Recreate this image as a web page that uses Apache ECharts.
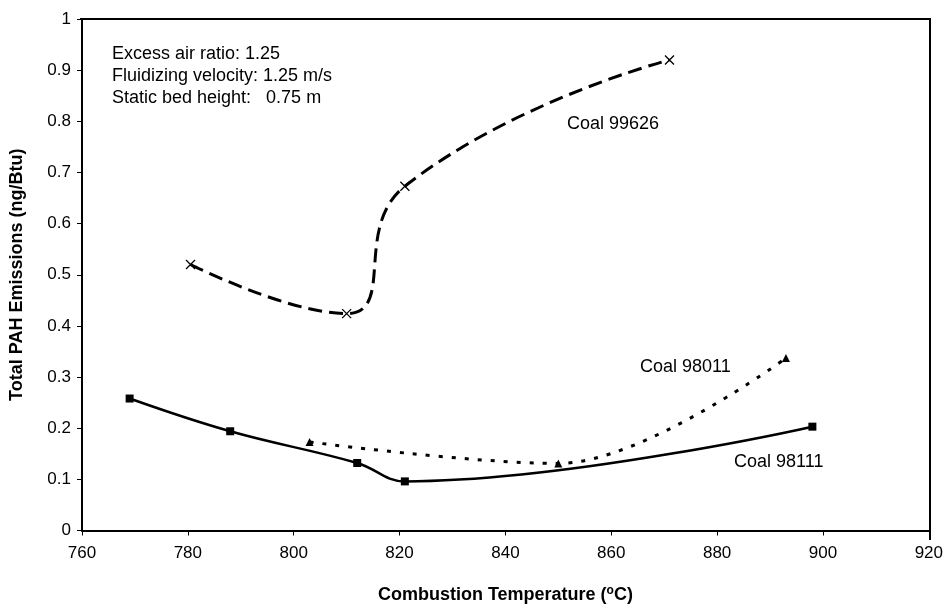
<!DOCTYPE html>
<html>
<head>
<meta charset="utf-8">
<script src="https://cdn.jsdelivr.net/npm/echarts@6/dist/echarts.min.js"></script>
<style>
  html, body { margin: 0; padding: 0; background: #fff; }
  #chart { width: 946px; height: 609px; }
</style>
</head>
<body>
<div id="chart"></div>
<script>
// readings: [temperature C, total PAH ng/Btu]
var coal98111 = [[769, 0.258], [788, 0.194], [812, 0.132], [821, 0.096], [898, 0.203]];
var coal98011 = [[803, 0.173], [850, 0.131], [893, 0.337]];
var coal99626 = [[780.5, 0.520], [810, 0.424], [821, 0.673], [871, 0.920]];
var conditions = ['Excess air ratio: 1.25', 'Fluidizing velocity: 1.25 m/s', 'Static bed height:   0.75 m'];

var font = 'Liberation Sans, Arial, sans-serif';
var myChart = echarts.init(document.getElementById('chart'));

myChart.setOption({
    animation: false,
    backgroundColor: '#fff',
    textStyle: { fontFamily: font },
    grid: { left: 80, right: 16, top: 19, bottom: 69 },
    xAxis: {
        type: 'value',
        min: 760, max: 920, interval: 20,
        name: '{t|Combustion Temperature (}{s|o}{t|C)}',
        nameLocation: 'middle',
        nameGap: 54,
        nameTextStyle: {
            rich: {
                t: { fontFamily: font, fontSize: 18, fontWeight: 'bold', color: '#000' },
                s: { fontFamily: font, fontSize: 12, fontWeight: 'bold', color: '#000', verticalAlign: 'top', padding: [0, 0, 9, 0] }
            }
        },
        axisLine: { onZero: false, lineStyle: { color: '#000', width: 2 } },
        axisTick: { show: true, inside: false, length: 5, lineStyle: { color: '#000' } },
        axisLabel: { color: '#000', fontSize: 17, margin: 14, fontFamily: font },
        splitLine: { show: false }
    },
    yAxis: {
        type: 'value',
        min: 0, max: 1, interval: 0.1,
        name: 'Total PAH Emissions (ng/Btu)',
        nameLocation: 'middle',
        nameGap: 56,
        nameTextStyle: { color: '#000', fontSize: 18, fontWeight: 'bold', fontFamily: font },
        axisLine: { onZero: false, lineStyle: { color: '#000', width: 2 } },
        axisTick: { show: true, inside: false, length: 5, lineStyle: { color: '#000' } },
        axisLabel: { color: '#000', fontSize: 17, margin: 11, fontFamily: font },
        splitLine: { show: false }
    },
    graphic: [
        // top and right frame of the plot area
        { type: 'polyline', shape: { points: [[80, 19], [930, 19], [930, 540]] },
          style: { stroke: '#000', lineWidth: 2, fill: null } },
        { type: 'text', left: 112, top: 43,
          style: { text: conditions.join('\n'), font: '18px ' + font, fill: '#000', lineHeight: 22 } },
        { type: 'text', left: 567, top: 115, style: { text: 'Coal 99626', font: '18px ' + font, fill: '#000' } },
        { type: 'text', left: 640, top: 358, style: { text: 'Coal 98011', font: '18px ' + font, fill: '#000' } },
        { type: 'text', left: 734, top: 453, style: { text: 'Coal 98111', font: '18px ' + font, fill: '#000' } }
    ],
    series: [
        {
            name: 'Coal 98111',
            type: 'line',
            data: coal98111,
            smooth: 0.4,
            symbol: 'rect',
            symbolSize: 8,
            itemStyle: { color: '#000' },
            lineStyle: { color: '#000', width: 2.5 }
        },
        {
            name: 'Coal 98011',
            type: 'line',
            data: coal98011,
            smooth: 0.35,
            symbol: 'triangle',
            symbolSize: 8,
            itemStyle: { color: '#000' },
            lineStyle: { color: '#000', width: 3, type: [4, 9] }
        },
        {
            name: 'Coal 99626',
            type: 'line',
            data: coal99626,
            smooth: 0.5,
            symbol: 'path://M0,0L10,10M10,0L0,10',
            symbolSize: 9,
            itemStyle: { color: '#000', borderColor: '#000', borderWidth: 1.3 },
            lineStyle: { color: '#000', width: 3, type: [14, 7] }
        }
    ]
});
</script>
</body>
</html>
